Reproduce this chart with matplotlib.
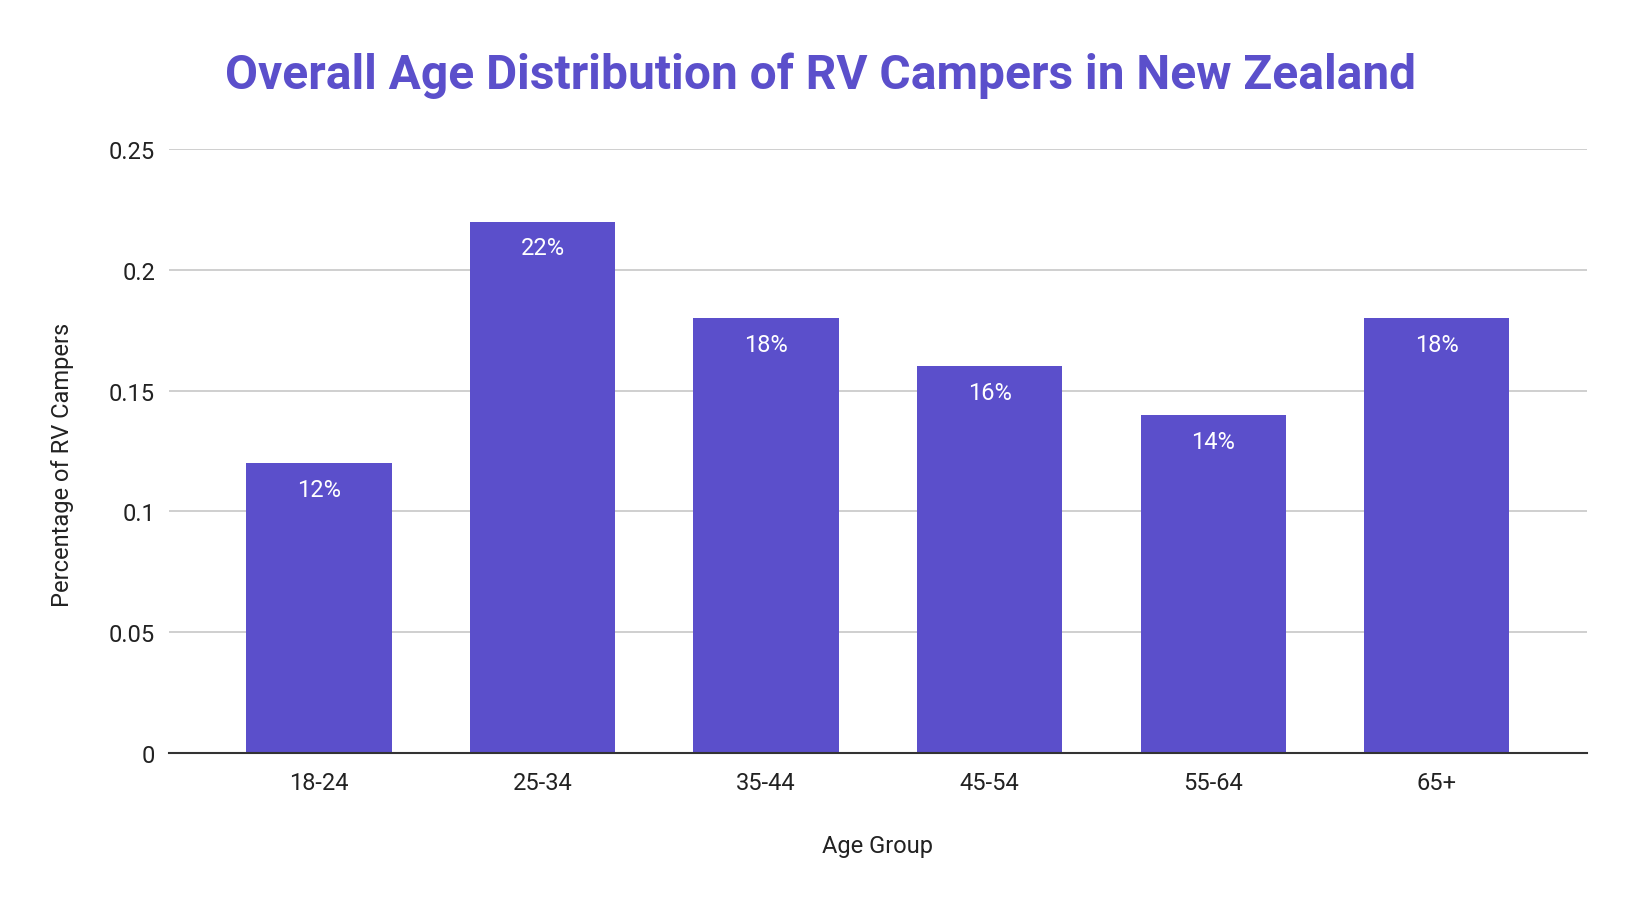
import matplotlib
matplotlib.use("Agg")
import matplotlib.pyplot as plt
from matplotlib.ticker import FuncFormatter

# data
age_groups = ["18-24", "25-34", "35-44", "45-54", "55-64", "65+"]
shares = [0.12, 0.22, 0.18, 0.16, 0.14, 0.18]
y_ticks = [0, 0.05, 0.1, 0.15, 0.2, 0.25]

purple = "#5b4fcb"
plt.rcParams["font.family"] = ["Roboto", "DejaVu Sans"]

fig = plt.figure(figsize=(16.32, 9.04), dpi=100)
ax = fig.add_axes([0.1036, 0.166, 0.8686, 0.668])

x = range(len(age_groups))
bars = ax.bar(x, shares, width=0.65, color=purple, zorder=3)

for b, v in zip(bars, shares):
    ax.annotate("%d%%" % round(v * 100), (b.get_x() + b.get_width() / 2, v),
                xytext=(0, -19), textcoords="offset points",
                ha="center", va="center", color="white", fontsize=17)

ax.set_xlim(-0.67, len(age_groups) - 1 + 0.67)
ax.set_ylim(0, 0.25)
ax.set_yticks(y_ticks)
ax.yaxis.set_major_formatter(FuncFormatter(lambda v, p: "%g" % v))
ax.set_xticks(list(x))
ax.set_xticklabels(age_groups)
ax.tick_params(axis="both", length=0, labelsize=17, colors="#222222")
ax.tick_params(axis="x", pad=13)
ax.tick_params(axis="y", pad=10)

ax.grid(axis="y", color="#cccccc", linewidth=1.3, zorder=0)
for s in ["top", "right", "left"]:
    ax.spines[s].set_visible(False)
ax.spines["bottom"].set_color("#333333")
ax.spines["bottom"].set_linewidth(1.5)
ax.spines["bottom"].set_zorder(4)

ax.set_xlabel("Age Group", fontsize=17, labelpad=29, color="#222222")
ax.set_ylabel("Percentage of RV Campers", fontsize=17, labelpad=25, color="#222222")
ax.yaxis.label.set_y(0.478)

fig.text(0.503, 0.916, "Overall Age Distribution of RV Campers in New Zealand",
         ha="center", va="center", fontsize=34.5, fontweight="bold", color=purple)

fig.savefig("out.png", dpi=100, facecolor="white")
